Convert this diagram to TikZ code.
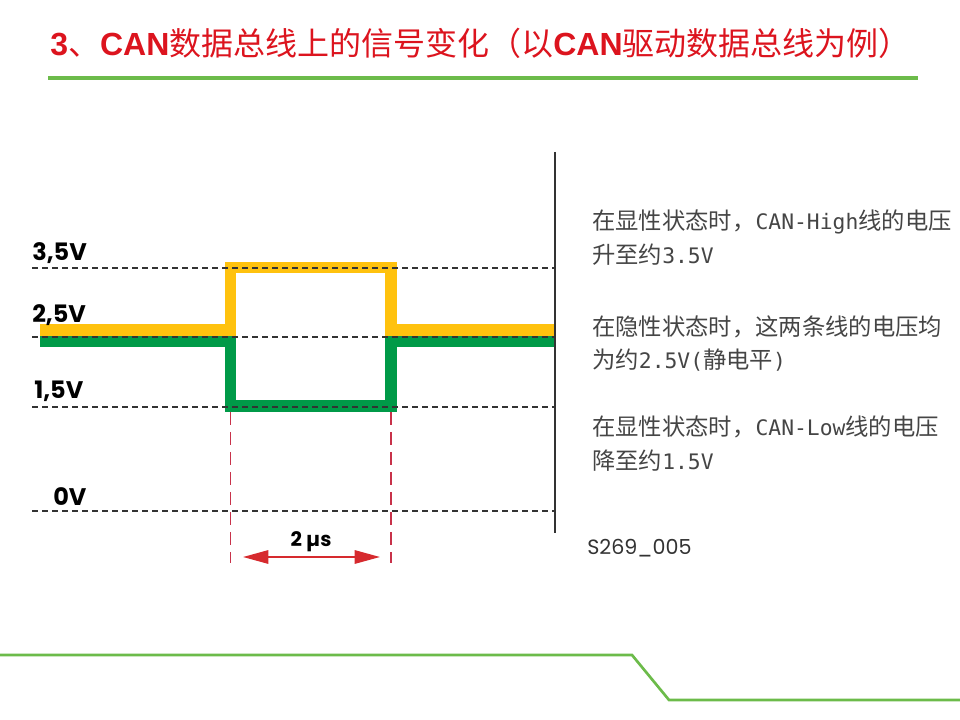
\documentclass[tikz,border=0pt]{standalone}
\usepackage{fontspec}
\setmainfont{Liberation Sans}
\newfontfamily\cjk{Noto Sans CJK SC}
\newfontfamily\geo{Poppins}
\newfontfamily\mono{DejaVu Sans Mono}
\usetikzlibrary{arrows.meta}
\definecolor{canhigh}{HTML}{FFC20E}
\definecolor{canlow}{HTML}{009A48}
\definecolor{titlered}{HTML}{DC141E}
\definecolor{slidegreen}{HTML}{6CBB4A}
\definecolor{markred}{HTML}{C8324A}
\definecolor{arrowred}{HTML}{D62A2E}
\definecolor{notegray}{HTML}{454545}
\newcommand\lat[1]{{\mono\fontsize{16}{25}\selectfont #1}}
\newcommand\bold[1]{{\rmfamily\bfseries #1}}

\begin{document}
\begin{tikzpicture}[
    x=0.75pt, y=-0.75pt,
    level/.style={draw=black!80, line width=1.1pt, dash pattern=on 4.5pt off 3pt},
    wire/.style={line width=8.5pt, line join=miter},
    volt/.style={anchor=west, inner sep=0pt, font=\geo\bfseries\fontsize{18}{20}\selectfont},
    note/.style={anchor=west, inner sep=0pt, align=left, text=notegray, font=\cjk\fontsize{17.5}{25}\selectfont},
    marker/.style={draw=markred, line width=1.2pt, dash pattern=on 9.5pt off 5.5pt}
  ]
  \useasboundingbox (0,0) rectangle (960,720);

  % title and slide frame
  \node[anchor=west, inner sep=0pt, text=titlered, font=\cjk\fontsize{24}{28}\selectfont] (title) at (50,43)
    {\bold{3}、\bold{CAN}数据总线上的信号变化（以\bold{CAN}驱动数据总线为例）};
  \draw[slidegreen, line width=3pt] (48,78) -- (918,78);
  \draw[slidegreen, line width=2pt] (0,655) -- (632,655) -- (669,700) -- (960,700);

  % voltage levels
  \foreach \name/\y in {high/268, rest/337, low/407, zero/511} {
    \coordinate (\name L) at (32,\y);
    \coordinate (\name R) at (555,\y);
  }

  % CAN-High and CAN-Low
  \draw[wire, canhigh] (40,330) -| (230.5,267.5) -| (391,330) -- (555,330);
  \draw[wire, canlow] (40,341.5) -| (230.5,406) -| (391,341.5) -- (555,341.5);

  \foreach \name in {high, rest, low, zero}
    \draw[level] (\name L) -- (\name R);

  \node[volt] (v35) at (32,253) {3,5V};
  \node[volt] (v25) at (32,315) {2,5V};
  \node[volt] (v15) at (34,391) {1,5V};
  \node[volt] (v0) at (53,497) {0V};

  % axis
  \coordinate (axisTop) at (555,152);
  \coordinate (axisBot) at (555,533);
  \draw[black!80, line width=1.5pt] (axisTop) -- (axisBot);

  % bit time
  \coordinate (edgeA) at (230.5,412);
  \coordinate (edgeB) at (391,412);
  \coordinate (spanL) at (243,557);
  \coordinate (spanR) at (380,557);
  \draw[marker] (edgeA) -- ++(0,151);
  \draw[marker] (edgeB) -- ++(0,151);
  \draw[{Triangle[length=19pt,width=10pt]}-{Triangle[length=19pt,width=10pt]}, draw=arrowred, fill=arrowred, line width=1.5pt]
    (spanL) -- (spanR);
  \node[font=\geo\bfseries\fontsize{15}{17}\selectfont] (bit) at (311,542) {2 µs};

  % notes
  \node[note] (dominantH) at (592,237.5)
    {在显性状态时，\lat{CAN-High}线的电压\\升至约\lat{3.5V}};
  \node[note] (recessive) at (592,343.5)
    {在隐性状态时，这两条线的电压均\\为约\lat{2.5V(}静电平\lat{)}};
  \node[note] (dominantL) at (592,443.5)
    {在显性状态时，\lat{CAN-Low}线的电压\\降至约\lat{1.5V}};
  \node[anchor=west, inner sep=0pt, text=black!80, font=\geo\fontsize{15.5}{18}\selectfont] (figno) at (587,548) {S269\_005};
\end{tikzpicture}
\end{document}
